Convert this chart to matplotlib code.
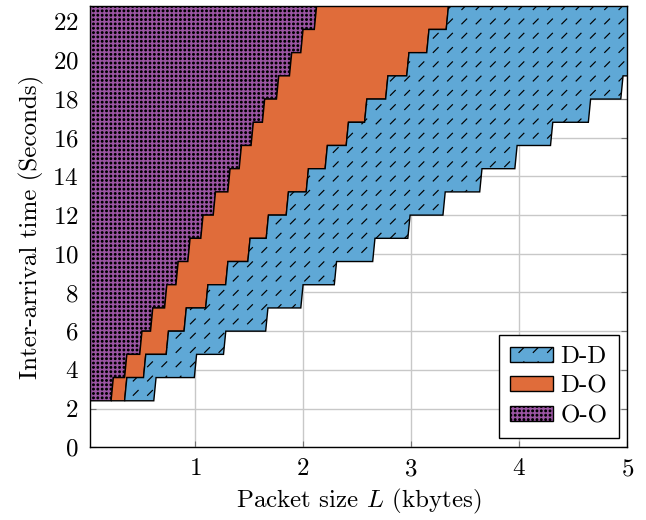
import numpy as np
import matplotlib
matplotlib.use('Agg')
import matplotlib.pyplot as plt
import matplotlib.hatch as mhatch
from matplotlib.path import Path
from matplotlib.patches import Polygon, Patch

# y levels of the staircase (seconds)
levels = [2.4, 3.6, 4.8, 6.0, 7.2, 8.4, 9.6, 10.8, 12.0, 13.2, 14.4, 15.6,
          16.8, 18.0, 19.2, 20.4, 21.6, 22.8]
# x of each step (kbytes), one value per band between two levels
oo_do = [0.225, 0.35, 0.49, 0.59, 0.72, 0.825, 0.935, 1.055, 1.17, 1.305,
         1.41, 1.52, 1.625, 1.755, 1.875, 1.98, 2.105]
do_dd = [0.35, 0.525, 0.735, 0.90, 1.10, 1.285, 1.49, 1.66, 1.845, 2.03,
         2.205, 2.40, 2.57, 2.765, 2.96, 3.145, 3.325]
dd_end = [0.62, 0.995, 1.265, 1.655, 1.98, 2.29, 2.645, 2.97, 3.295, 3.635,
          3.96, 4.29, 4.64, 4.94, 5.25, 5.6, 5.9]

labels = ['D-D', 'D-O', 'O-O']
colors = ['#5fa8d6', '#e06c3a', '#9b55a3']
hatches = ['/', None, '.']
xticks = [1, 2, 3, 4, 5]
yticks = [0, 2, 4, 6, 8, 10, 12, 14, 16, 18, 20, 22]


		# pgfplots-like patterns: short dashes and a square grid of dots
class DashLines(mhatch.HatchPatternBase):
    def __init__(self, hatch, density):
        self.n = 7 if (hatch and '/' in hatch) else 0
        self.num_vertices = 2*self.n*self.n

    def set_vertices_and_codes(self, vertices, codes):
        c = (np.arange(self.n) + 0.5)/self.n
        gx, gy = np.meshgrid(c, c)
        h = 0.17/self.n
        vertices[0::2, 0] = gx.ravel() - h
        vertices[0::2, 1] = gy.ravel() - h
        vertices[1::2, 0] = gx.ravel() + h
        vertices[1::2, 1] = gy.ravel() + h
        codes[0::2] = Path.MOVETO
        codes[1::2] = Path.LINETO


class GridDots(mhatch.HatchPatternBase):
    def __init__(self, hatch, density):
        self.n = 23 if (hatch and '.' in hatch) else 0
        circ = Path.unit_circle()
        self.sv = circ.vertices*0.0085
        self.sc = circ.codes
        self.num_vertices = self.n*self.n*len(self.sv)

    def set_vertices_and_codes(self, vertices, codes):
        c = (np.arange(self.n) + 0.5)/self.n
        m = len(self.sv)
        k = 0
        for x in c:
            for y in c:
                vertices[k:k+m] = self.sv + (x, y)
                codes[k:k+m] = self.sc
                k += m


mhatch._hatch_types[mhatch._hatch_types.index(mhatch.NorthEastHatch)] = DashLines
mhatch._hatch_types[mhatch._hatch_types.index(mhatch.SmallFilledCircles)] = GridDots

plt.rcParams['font.family'] = ['cmr10']
plt.rcParams['mathtext.fontset'] = 'cm'
plt.rcParams['axes.formatter.use_mathtext'] = True
plt.rcParams['hatch.linewidth'] = 0.85

dx = 0.021


def stair(xs):
    pts = []
    for k in range(len(xs)):
        pts.append((xs[k], levels[k]))
        pts.append((xs[k] + dx, levels[k+1]))
    return pts


left = [(-0.5, levels[0]), (-0.5, levels[-1])]
bounds = [left, stair(oo_do), stair(do_dd), stair(dd_end)]

fig = plt.figure(figsize=(6.46, 5.2), dpi=100)
ax = fig.add_axes([0.139, 0.140, 0.832, 0.848])

# regions: O-O, D-O, D-D
order = [2, 1, 0]
for i in range(3):
    j = order[i]
    pts = bounds[i] + bounds[i+1][::-1]
    ax.add_patch(Polygon(pts, closed=True, facecolor=colors[j],
                         edgecolor='black', lw=1.0, hatch=hatches[j], zorder=2))

ax.set_xlim(0.028, 5)
ax.set_ylim(0, 22.8)
ax.set_xticks(xticks)
ax.set_yticks(yticks)
ax.grid(True, color='#c8c8c8', lw=1.0, zorder=0)
ax.set_axisbelow(True)
ax.tick_params(direction='in', length=4, color='0.45', top=True, right=True,
               labelsize=18, pad=8)
for s in ax.spines.values():
    s.set_linewidth(1.0)
    s.set_zorder(3)

ax.set_xlabel('Packet size $L$ (kbytes)', fontsize=18, labelpad=5)
ax.set_ylabel('Inter-arrival time (Seconds)', fontsize=18, labelpad=6)

handles = [Patch(facecolor=colors[k], edgecolor='black', lw=1.0,
                 hatch=hatches[k], label=labels[k]) for k in range(3)]
leg = ax.legend(handles=handles, loc='lower right', fontsize=18,
                fancybox=False, edgecolor='black', framealpha=1,
                handlelength=1.7, handleheight=0.56, handletextpad=0.3,
                labelspacing=0.3, borderaxespad=0.35, borderpad=0.45)
leg.get_frame().set_linewidth(1.0)
leg.set_zorder(5)

fig.savefig('out.png', dpi=100)
